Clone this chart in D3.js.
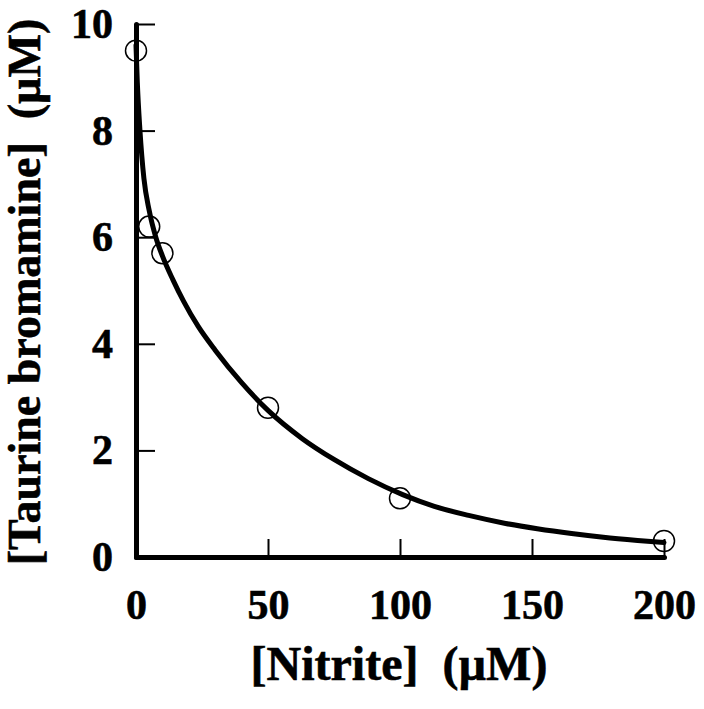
<!DOCTYPE html>
<html>
<head>
<meta charset="utf-8">
<script src="https://cdn.jsdelivr.net/npm/d3@7"></script>
<style>
  body { margin: 0; background: #fff; }
  svg { display: block; }
  text { font-family: "Liberation Serif", "Times New Roman", serif; font-weight: bold; fill: #000; stroke: #000; stroke-width: 0.6px; }
</style>
</head>
<body>
<svg id="chart" width="704" height="709"></svg>
<script>
// measured points
const nitrite = [0, 5, 10, 50, 100, 200];
const bromamine = [9.5, 6.2, 5.7, 2.8, 1.1, 0.3];

// fitted curve
const fitX = [0, 0.5, 1.5, 3, 5, 7.5, 10, 14, 18, 23.5, 30, 40, 50, 63, 75, 88, 101, 113, 126, 140, 152, 165, 177, 190, 200];
const fitY = [9.6, 8.9, 8.0, 7.1, 6.5, 6.0, 5.65, 5.2, 4.8, 4.33, 3.88, 3.27, 2.75, 2.22, 1.83, 1.47, 1.17, 0.95, 0.78, 0.63, 0.53, 0.44, 0.37, 0.31, 0.27];

const xTicks = [0, 50, 100, 150, 200];
const yTicks = [0, 2, 4, 6, 8, 10];

const svg = d3.select('#chart');

const x = d3.scaleLinear().domain([0, 200]).range([136, 664]);
const y = d3.scaleLinear().domain([0, 10]).range([557, 24]);

// axes
const xAxis = svg.append('g')
  .attr('transform', 'translate(0,' + y(0) + ')')
  .call(d3.axisBottom(x).tickValues(xTicks).tickSizeInner(-18).tickSizeOuter(0).tickPadding(32));

const yAxis = svg.append('g')
  .attr('transform', 'translate(' + x(0) + ',0)')
  .call(d3.axisLeft(y).tickValues(yTicks).tickSizeInner(-19).tickSizeOuter(0).tickPadding(23));

[xAxis, yAxis].forEach(function(g) {
  g.select('.domain').attr('stroke', '#000').attr('stroke-width', 5).attr('stroke-linecap', 'round');
  g.selectAll('.tick line').attr('stroke', '#000').attr('stroke-width', 2);
  g.selectAll('.tick text').style('font-size', '42px').attr('fill', '#000');
  g.attr('font-family', null).attr('font-size', null);
});

// fitted curve
const fit = fitX.map(function(d, i) { return [d, fitY[i]]; });
const line = d3.line()
  .x(function(d) { return x(d[0]); })
  .y(function(d) { return y(d[1]); })
  .curve(d3.curveMonotoneX);

svg.append('path')
  .datum(fit)
  .attr('d', line)
  .attr('fill', 'none')
  .attr('stroke', '#000')
  .attr('stroke-width', 5)
  .attr('stroke-linecap', 'round');

// data points
svg.selectAll('circle.pt')
  .data(nitrite)
  .enter()
  .append('circle')
  .attr('class', 'pt')
  .attr('cx', function(d) { return x(d); })
  .attr('cy', function(d, i) { return y(bromamine[i]); })
  .attr('r', 10.5)
  .attr('fill', 'none')
  .attr('stroke', '#000')
  .attr('stroke-width', 1.5);

// axis titles
svg.append('text')
  .attr('x', 399)
  .attr('y', 680)
  .attr('text-anchor', 'middle')
  .style('font-size', '48px')
  .text('[Nitrite]\u00a0\u00a0(\u00b5M)');

svg.append('text')
  .attr('transform', 'translate(40,292) rotate(-90)')
  .attr('text-anchor', 'middle')
  .style('font-size', '46px')
  .text('[Taurine bromamine]\u00a0\u00a0(\u00b5M)');
</script>
</body>
</html>
